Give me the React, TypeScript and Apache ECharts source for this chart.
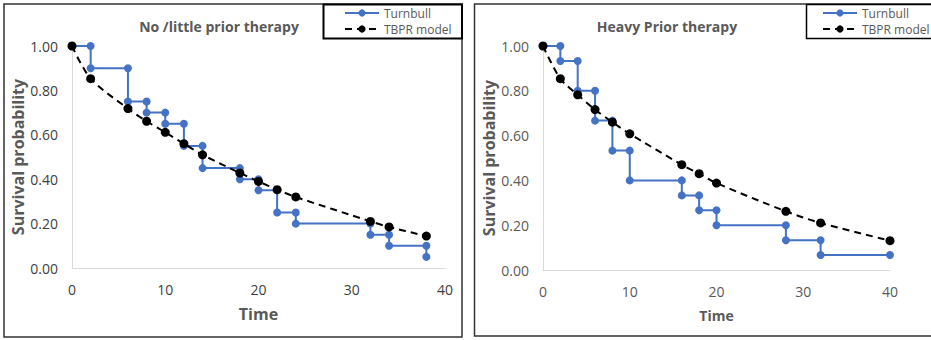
import React, { useEffect, useRef } from "react";
import * as echarts from "echarts";

// Left panel: No / little prior therapy
const leftTurnbullTime = [0, 2, 2, 6, 6, 8, 8, 10, 10, 12, 12, 14, 14, 18, 18, 20, 20, 22, 22, 24, 24, 32, 32, 34, 34, 38, 38];
const leftTurnbullSurv = [1, 1, 0.9, 0.9, 0.75, 0.75, 0.7, 0.7, 0.65, 0.65, 0.55, 0.55, 0.45, 0.45, 0.4, 0.4, 0.35, 0.35, 0.25, 0.25, 0.2, 0.2, 0.15, 0.15, 0.1, 0.1, 0.05];
const leftModelTime = [0, 2, 6, 8, 10, 12, 14, 18, 20, 22, 24, 32, 34, 38];
const leftModelSurv = [1, 0.853, 0.718, 0.661, 0.611, 0.56, 0.51, 0.428, 0.39, 0.353, 0.32, 0.21, 0.185, 0.144];

// Right panel: Heavy prior therapy
const rightTurnbullTime = [0, 2, 2, 4, 4, 6, 6, 8, 8, 10, 10, 16, 16, 18, 18, 20, 20, 28, 28, 32, 32, 40];
const rightTurnbullSurv = [1, 1, 0.933, 0.933, 0.8, 0.8, 0.667, 0.667, 0.533, 0.533, 0.4, 0.4, 0.333, 0.333, 0.267, 0.267, 0.2, 0.2, 0.133, 0.133, 0.067, 0.067];
const rightModelTime = [0, 2, 4, 6, 8, 10, 16, 18, 20, 28, 32, 40];
const rightModelSurv = [1, 0.854, 0.782, 0.716, 0.66, 0.608, 0.47, 0.43, 0.388, 0.262, 0.21, 0.131];

const titles = ["No /little prior therapy", "Heavy Prior therapy"];
const seriesNames = ["Turnbull", "TBPR model"];
const xTitle = "Time";
const yTitle = "Survival probability";

const FONT = "'Open Sans', sans-serif";
const BLUE = "#4472C4";

const zip = (a: number[], b: number[]) => a.map((v, i) => [v, b[i]]);

export default function App() {
  const ref = useRef<HTMLDivElement>(null);
  useEffect(() => {
    if (!ref.current) return;
    const chart = echarts.init(ref.current, undefined, { renderer: "svg" });

    const mkX = (idx: number, labelColor: string, nameSize: number) => ({
      type: "value",
      gridIndex: idx,
      min: 0,
      max: 40,
      interval: 10,
      axisLine: { show: true, lineStyle: { color: "#d9d9d9", width: 1 } },
      axisTick: { show: false },
      splitLine: { show: false },
      axisLabel: { margin: 14, fontSize: 14, color: labelColor, fontFamily: FONT },
      name: xTitle,
      nameLocation: "middle",
      nameGap: 38,
      nameTextStyle: { fontSize: nameSize, fontWeight: "bold", color: "#595959", fontFamily: FONT },
    });
    const mkY = (idx: number, labelColor: string) => ({
      type: "value",
      gridIndex: idx,
      min: 0,
      max: 1,
      interval: 0.2,
      axisLine: { show: true, lineStyle: { color: "#d9d9d9", width: 1 } },
      axisTick: { show: false },
      splitLine: { show: false },
      axisLabel: {
        margin: 14,
        fontSize: 14,
        color: labelColor,
        fontFamily: FONT,
        formatter: (v: number) => v.toFixed(2),
      },
      name: yTitle,
      nameLocation: "middle",
      nameGap: 44,
      nameRotate: 90,
      nameTextStyle: { fontSize: 16, fontWeight: "bold", color: "#595959", fontFamily: FONT },
    });
    const mkTurnbull = (idx: number, t: number[], s: number[]) => ({
      name: seriesNames[0],
      type: "line",
      xAxisIndex: idx,
      yAxisIndex: idx,
      data: zip(t, s),
      symbol: "circle",
      symbolSize: 8,
      showSymbol: true,
      lineStyle: { color: BLUE, width: 2 },
      itemStyle: { color: BLUE },
      z: 2,
    });
    const mkModel = (idx: number, t: number[], s: number[]) => ({
      name: seriesNames[1],
      type: "line",
      xAxisIndex: idx,
      yAxisIndex: idx,
      data: zip(t, s),
      symbol: "circle",
      symbolSize: 9,
      showSymbol: true,
      smooth: 0.3,
      lineStyle: { color: "#000", width: 2, type: [7, 5] },
      itemStyle: { color: "#000" },
      z: 3,
    });
    const mkLegend = (left: number) => ({
      orient: "vertical",
      left,
      top: 7,
      padding: 0,
      itemWidth: 34,
      itemHeight: 9,
      itemGap: 4,
      textStyle: { fontSize: 12, lineHeight: 12, color: "#595959", fontFamily: FONT },
      data: seriesNames,
    });

    chart.setOption({
      animation: false,
      backgroundColor: "#fff",
      grid: [
        { left: 72, top: 46, width: 373, height: 222 },
        { left: 543, top: 46, width: 347, height: 224 },
      ],
      xAxis: [mkX(0, "#404040", 16), mkX(1, "#595959", 14)],
      yAxis: [mkY(0, "#404040"), mkY(1, "#595959")],
      legend: [mkLegend(344), mkLegend(822)],
      series: [
        mkTurnbull(0, leftTurnbullTime, leftTurnbullSurv),
        mkModel(0, leftModelTime, leftModelSurv),
        mkTurnbull(1, rightTurnbullTime, rightTurnbullSurv),
        mkModel(1, rightModelTime, rightModelSurv),
      ],
      graphic: [
        { type: "rect", shape: { x: 4, y: 4, width: 458, height: 333 }, style: { fill: "none", stroke: "#333", lineWidth: 1.5 }, silent: true },
        { type: "rect", shape: { x: 474.5, y: 4, width: 470, height: 332 }, style: { fill: "none", stroke: "#333", lineWidth: 1.5 }, silent: true },
        { type: "rect", shape: { x: 323.5, y: 4.5, width: 138.5, height: 34 }, style: { fill: "none", stroke: "#000", lineWidth: 2 }, silent: true },
        { type: "rect", shape: { x: 806.5, y: 4.5, width: 140, height: 34 }, style: { fill: "none", stroke: "#000", lineWidth: 1.5 }, silent: true },
        { type: "text", x: 219, y: 26, style: { text: titles[0], textAlign: "center", textVerticalAlign: "middle", font: `bold 14px ${FONT}`, fill: "#595959" }, silent: true },
        { type: "text", x: 667, y: 26, style: { text: titles[1], textAlign: "center", textVerticalAlign: "middle", font: `bold 14px ${FONT}`, fill: "#595959" }, silent: true },
      ],
    });
    return () => chart.dispose();
  }, []);
  return (
    <div
      ref={ref}
      style={{ position: "fixed", left: 0, top: 0, width: 931, height: 340, background: "#fff" }}
    />
  );
}
